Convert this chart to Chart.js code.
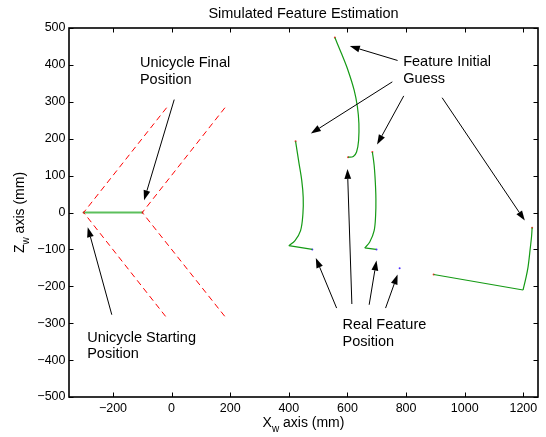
<!DOCTYPE html>
<html>
<head>
<meta charset="utf-8">
<script src="https://cdn.jsdelivr.net/npm/chart.js@4/dist/chart.umd.min.js"></script>
<style>
    html, body { margin: 0; padding: 0; background: #fff; }
    canvas { display: block; }
</style>
</head>
<body>
<canvas id="featureChart" width="546" height="437"></canvas>
<script>
    // axis ticks
    var xTicks = [-200, 0, 200, 400, 600, 800, 1000, 1200];
    var zTicks = [-500, -400, -300, -200, -100, 0, 100, 200, 300, 400, 500];

    // unicycle path and camera field of view (start / final)
    var unicycleX = [-300, -100];
    var unicycleZ = [0, 0];
    var fovStartX = [-17, -300, -20];
    var fovStartZ = [284, 0, -282];
    var fovFinalX = [182, -100, 182];
    var fovFinalZ = [284, 0, -282];

    // feature estimation tracks
    var f1CurveX = [423, 435, 444, 449, 448, 440, 421, 400];
    var f1CurveZ = [193, 132, 87, 41, -4, -49, -76, -90];
    var f1TailX = [400, 480];
    var f1TailZ = [-90, -100];

    var f2CurveX = [557, 580, 602, 623, 634, 639, 638, 631, 620, 602];
    var f2CurveZ = [474, 430, 385, 331, 286, 241, 195, 164, 152, 150];

    var f3CurveX = [685, 691, 695, 697, 696, 691, 676, 659];
    var f3CurveZ = [164, 128, 82, 37, -8, -49, -80, -96];
    var f3TailX = [659, 697];
    var f3TailZ = [-96, -100];

    var f4TailX = [894, 1199];
    var f4TailZ = [-168, -210];
    var f4CurveX = [1199, 1208, 1216, 1224, 1228, 1230];
    var f4CurveZ = [-210, -180, -148, -94, -65, -41];

    // initial guesses and real positions
    var guessX = [423, 557, 602, 685, 894, 1230];
    var guessZ = [193, 474, 150, 164, -168, -41];
    var realX = [480, 699, 778];
    var realZ = [-100, -100, -151];
    var vertexX = [-300, -100];
    var vertexZ = [0, 0];

    // annotations
    var arrowTailX = [9, -204, 771, 753, 792, 923, 563, 615, 674, 730];
    var arrowTailZ = [306, -277, 412, 354, 316, 311, -259, -248, -250, -259];
    var arrowHeadX = [-94, -286, 608, 475, 701, 1205, 492, 600, 699, 771];
    var arrowHeadZ = [33, -40, 451, 214, 184, -22, -123, 118, -130, -168];

    var labelLines = [
        ['Unicycle Final', 'Position'],
        ['Unicycle Starting', 'Position'],
        ['Feature Initial', 'Guess'],
        ['Real Feature', 'Position']
    ];
    var labelX = [-108, -288, 790, 583];
    var labelZ = [394, -350, 396, -316];

    var FONT = "'Liberation Sans', Arial, Helvetica, sans-serif";

    function toPoints(xs, zs) {
        return xs.map(function (x, i) { return { x: x, y: zs[i] }; });
    }

    function lineSet(xs, zs, color, width, tension, dash) {
        return {
            data: toPoints(xs, zs),
            showLine: true,
            borderColor: color,
            borderWidth: width,
            borderDash: dash || [],
            tension: tension || 0,
            pointRadius: 0,
            fill: false
        };
    }

    function dotSet(xs, zs, color) {
        return {
            data: toPoints(xs, zs),
            showLine: false,
            pointRadius: 1,
            pointBorderWidth: 0,
            pointBackgroundColor: color
        };
    }

    var featureGreen = '#149a14';

    var datasets = [
        lineSet(fovStartX, fovStartZ, '#ff0000', 1, 0, [6, 4]),
        lineSet(fovFinalX, fovFinalZ, '#ff0000', 1, 0, [6, 4]),
        lineSet(unicycleX, unicycleZ, '#5cbf5c', 2),
        lineSet(f1CurveX, f1CurveZ, featureGreen, 1.2, 0.35),
        lineSet(f1TailX, f1TailZ, featureGreen, 1.2),
        lineSet(f2CurveX, f2CurveZ, featureGreen, 1.2, 0.35),
        lineSet(f3CurveX, f3CurveZ, featureGreen, 1.2, 0.35),
        lineSet(f3TailX, f3TailZ, featureGreen, 1.2),
        lineSet(f4TailX, f4TailZ, featureGreen, 1.2),
        lineSet(f4CurveX, f4CurveZ, featureGreen, 1.2, 0.35),
        dotSet(guessX, guessZ, '#ff3030'),
        dotSet(realX, realZ, '#5030ff'),
        dotSet(vertexX, vertexZ, '#a00000')
    ];

    function drawArrow(ctx, x1, y1, x2, y2) {
        var ang = Math.atan2(y2 - y1, x2 - x1);
        var len = 10, half = 3.4;
        var bx = x2 - len * Math.cos(ang), by = y2 - len * Math.sin(ang);
        ctx.beginPath();
        ctx.moveTo(x1, y1);
        ctx.lineTo(bx, by);
        ctx.stroke();
        ctx.beginPath();
        ctx.moveTo(x2, y2);
        ctx.lineTo(bx + half * Math.sin(ang), by - half * Math.cos(ang));
        ctx.lineTo(bx - half * Math.sin(ang), by + half * Math.cos(ang));
        ctx.closePath();
        ctx.fill();
    }

    // label with a subscript, e.g. X_w axis (mm)
    function drawSubLabel(ctx, main, sub, rest, cx, baseY) {
        ctx.font = '14px ' + FONT;
        var w1 = ctx.measureText(main).width;
        var w3 = ctx.measureText(rest).width;
        ctx.font = '10px ' + FONT;
        var w2 = ctx.measureText(sub).width;
        var x = cx - (w1 + w2 + w3) / 2;
        ctx.textAlign = 'left';
        ctx.textBaseline = 'alphabetic';
        ctx.font = '14px ' + FONT;
        ctx.fillText(main, x, baseY);
        ctx.font = '10px ' + FONT;
        ctx.fillText(sub, x + w1, baseY + 5);
        ctx.font = '14px ' + FONT;
        ctx.fillText(rest, x + w1 + w2, baseY);
    }

    var matlabAxes = {
        id: 'matlabAxes',
        afterDatasetsDraw: function (chart) {
            var ctx = chart.ctx;
            var a = chart.chartArea;
            var sx = chart.scales.x, sy = chart.scales.y;
            ctx.save();
            ctx.strokeStyle = '#000';
            ctx.fillStyle = '#000';

            // box
            ctx.lineWidth = 1.6;
            ctx.strokeRect(a.left, a.top, a.right - a.left, a.bottom - a.top);

            // inward ticks on all four sides
            ctx.lineWidth = 1;
            var tl = 4.5;
            ctx.beginPath();
            xTicks.forEach(function (v) {
                var px = Math.round(sx.getPixelForValue(v)) + 0.5;
                ctx.moveTo(px, a.bottom); ctx.lineTo(px, a.bottom - tl);
                ctx.moveTo(px, a.top); ctx.lineTo(px, a.top + tl);
            });
            zTicks.forEach(function (v) {
                var py = Math.round(sy.getPixelForValue(v)) + 0.5;
                ctx.moveTo(a.left, py); ctx.lineTo(a.left + tl, py);
                ctx.moveTo(a.right, py); ctx.lineTo(a.right - tl, py);
            });
            ctx.stroke();

            // arrows
            ctx.lineWidth = 1;
            for (var i = 0; i < arrowTailX.length; i++) {
                drawArrow(ctx,
                    sx.getPixelForValue(arrowTailX[i]), sy.getPixelForValue(arrowTailZ[i]),
                    sx.getPixelForValue(arrowHeadX[i]), sy.getPixelForValue(arrowHeadZ[i]));
            }

            // text labels
            ctx.font = '14.5px ' + FONT;
            ctx.textAlign = 'left';
            ctx.textBaseline = 'alphabetic';
            labelLines.forEach(function (lines, i) {
                var px = sx.getPixelForValue(labelX[i]);
                var py = sy.getPixelForValue(labelZ[i]);
                lines.forEach(function (t, j) {
                    ctx.fillText(t, px, py + j * 16.8);
                });
            });

            // title
            ctx.font = '14.5px ' + FONT;
            ctx.textAlign = 'center';
            ctx.fillText('Simulated Feature Estimation', (a.left + a.right) / 2, a.top - 10.5);

            // axis titles
            drawSubLabel(ctx, 'X', 'w', ' axis (mm)', (a.left + a.right) / 2, 426.5);
            ctx.save();
            ctx.translate(24, (a.top + a.bottom) / 2);
            ctx.rotate(-Math.PI / 2);
            drawSubLabel(ctx, 'Z', 'w', ' axis (mm)', 0, 0);
            ctx.restore();

            ctx.restore();
        }
    };

    function fixedTicks(list) {
        return function (scale) {
            scale.ticks = list.map(function (v) { return { value: v }; });
        };
    }

    function minusLabel(v) {
        return v < 0 ? '\u2212' + Math.abs(v) : String(v);
    }

    Chart.defaults.font.family = FONT;
    Chart.defaults.color = '#000';

    new Chart(document.getElementById('featureChart').getContext('2d'), {
        type: 'scatter',
        data: { datasets: datasets },
        options: {
            responsive: false,
            animation: false,
            devicePixelRatio: 1,
            layout: { padding: { top: 28, right: 8, left: 0, bottom: 0 } },
            plugins: {
                legend: { display: false },
                title: { display: false },
                tooltip: { enabled: false }
            },
            scales: {
                x: {
                    type: 'linear',
                    min: -350,
                    max: 1250,
                    grid: { display: false, drawTicks: false },
                    border: { display: false },
                    afterBuildTicks: fixedTicks(xTicks),
                    afterFit: function (scale) { scale.height = 40; },
                    ticks: {
                        padding: 4,
                        maxRotation: 0,
                        font: { size: 12.5 },
                        callback: minusLabel
                    }
                },
                y: {
                    type: 'linear',
                    min: -500,
                    max: 500,
                    grid: { display: false, drawTicks: false },
                    border: { display: false },
                    afterBuildTicks: fixedTicks(zTicks),
                    afterFit: function (scale) { scale.width = 69; },
                    ticks: {
                        padding: 3.5,
                        font: { size: 12.5 },
                        callback: minusLabel
                    }
                }
            }
        },
        plugins: [matlabAxes]
    });
</script>
</body>
</html>
